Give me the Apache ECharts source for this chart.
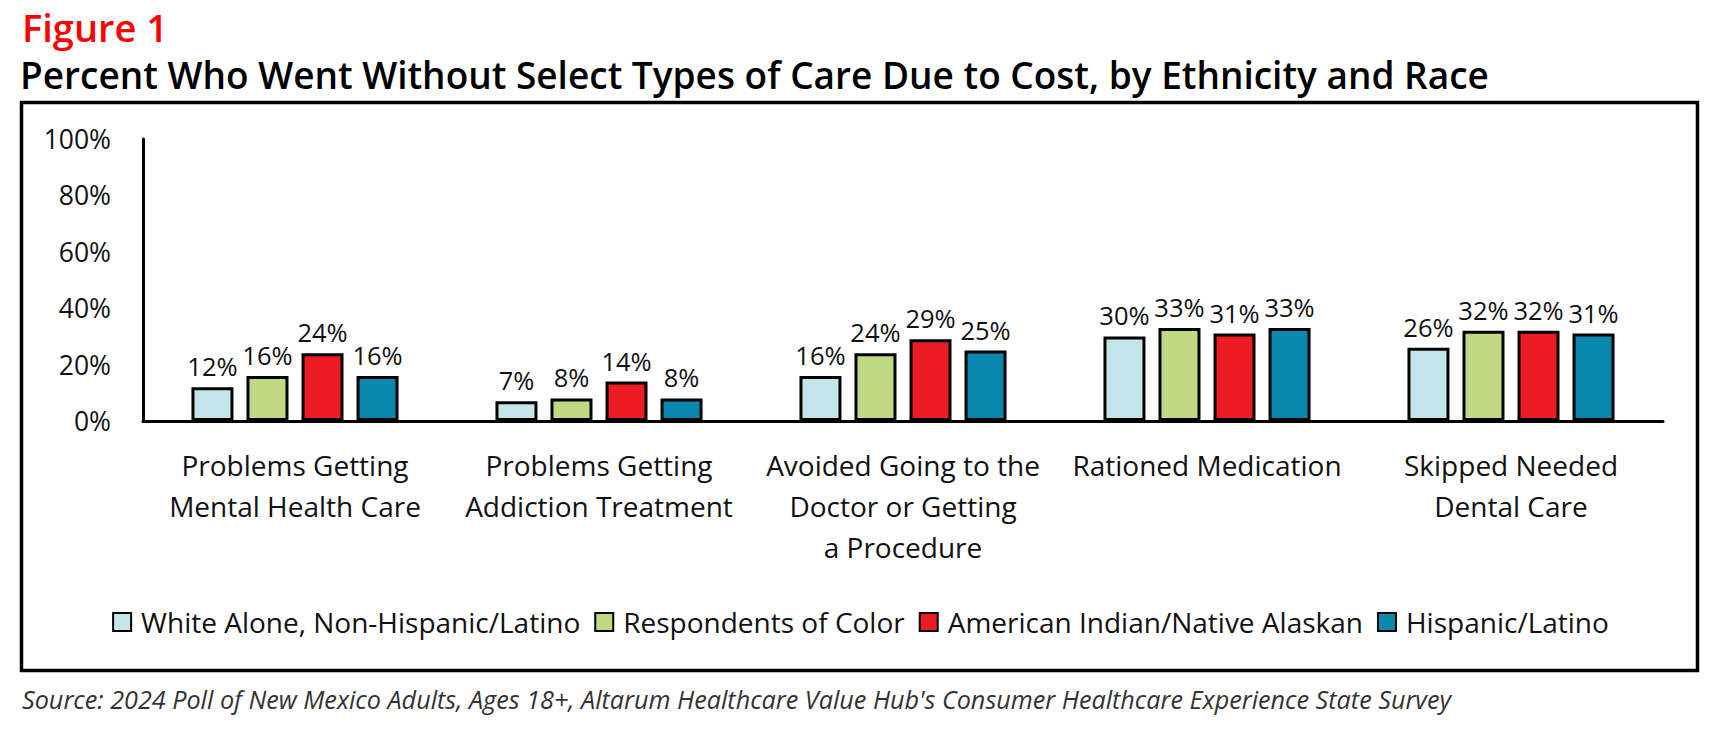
<!DOCTYPE html>
<html>
<head>
<meta charset="utf-8">
<script src="https://cdn.jsdelivr.net/npm/echarts@6/dist/echarts.min.js"></script>
<style>
html,body{margin:0;padding:0;background:#fff;}
#chart{width:1721px;height:729px;}
</style>
</head>
<body>
<div id="chart"></div>
<script>
const categories = [
  "Problems Getting\nMental Health Care",
  "Problems Getting\nAddiction Treatment",
  "Avoided Going to the\nDoctor or Getting\na Procedure",
  "Rationed Medication",
  "Skipped Needed\nDental Care"
];
const seriesNames = [
  "White Alone, Non-Hispanic/Latino",
  "Respondents of Color",
  "American Indian/Native Alaskan",
  "Hispanic/Latino"
];
const whiteAlone = [12, 7, 16, 30, 26];
const respondentsOfColor = [16, 8, 24, 33, 32];
const americanIndian = [24, 14, 29, 31, 32];
const hispanicLatino = [16, 8, 25, 33, 31];
const yTicks = [0, 20, 40, 60, 80, 100];
const colors = ["#C3E6EC", "#BDD981", "#ED1C24", "#0B88B0"];

const FONT = "'Open Sans'";
const values = [whiteAlone, respondentsOfColor, americanIndian, hispanicLatino];

const chart = echarts.init(document.getElementById('chart'), null, {renderer: 'svg'});

const series = seriesNames.map((name, i) => ({
  name: name,
  type: 'bar',
  data: values[i],
  barWidth: 42,
  barGap: '31%',
  itemStyle: {color: colors[i], borderColor: '#000', borderWidth: 3},
  label: {
    show: true,
    position: 'top',
    distance: 8,
    formatter: '{c}%',
    fontFamily: FONT,
    fontSize: 25.5,
    color: '#111'
  },
  emphasis: {disabled: true}
}));

chart.setOption({
  animation: false,
  textStyle: {fontFamily: FONT},
  graphic: [
    {type: 'text', left: 22, top: 8, style: {text: 'Figure 1', fill: '#FF0000', fontFamily: FONT, fontWeight: 600, fontSize: 38, lineHeight: 38}},
    {type: 'text', left: 20, top: 56, style: {text: 'Percent Who Went Without Select Types of Care Due to Cost, by Ethnicity and Race', fill: '#000', fontFamily: FONT, fontWeight: 600, fontSize: 37, lineHeight: 37}},
    {type: 'rect', shape: {x: 21.5, y: 102.5, width: 1676, height: 568}, style: {fill: 'none', stroke: '#000', lineWidth: 3.5}, silent: true},
    {type: 'text', left: 22, top: 686, style: {text: "Source: 2024 Poll of New Mexico Adults, Ages 18+, Altarum Healthcare Value Hub's Consumer Healthcare Experience State Survey", fill: '#333', fontFamily: FONT, fontStyle: 'italic', fontSize: 25.2, lineHeight: 26}}
  ],
  legend: {
    data: seriesNames,
    top: 603,
    left: 'center',
    itemWidth: 18,
    itemHeight: 18,
    itemGap: 14,
    icon: 'rect',
    textStyle: {fontFamily: FONT, fontSize: 28, color: '#111', padding: [0, 0, 0, 5]},
    selectedMode: false
  },
  grid: {left: 143, right: 58, top: 139, bottom: 308, containLabel: false},
  xAxis: {
    type: 'category',
    data: categories,
    axisLine: {show: true, lineStyle: {color: '#000', width: 3}},
    axisTick: {show: false},
    axisLabel: {
      interval: 0,
      margin: 23,
      fontFamily: FONT,
      fontSize: 28,
      lineHeight: 41,
      color: '#111'
    }
  },
  yAxis: {
    type: 'value',
    min: 0,
    max: 100,
    interval: 20,
    axisLine: {show: true, lineStyle: {color: '#000', width: 3}},
    axisTick: {show: false},
    splitLine: {show: false},
    axisLabel: {
      margin: 32,
      fontFamily: FONT,
      fontSize: 26.5,
      color: '#111',
      formatter: function (v) { return yTicks.indexOf(v) >= 0 ? v + '%' : ''; }
    }
  },
  series: series
});
</script>
</body>
</html>
